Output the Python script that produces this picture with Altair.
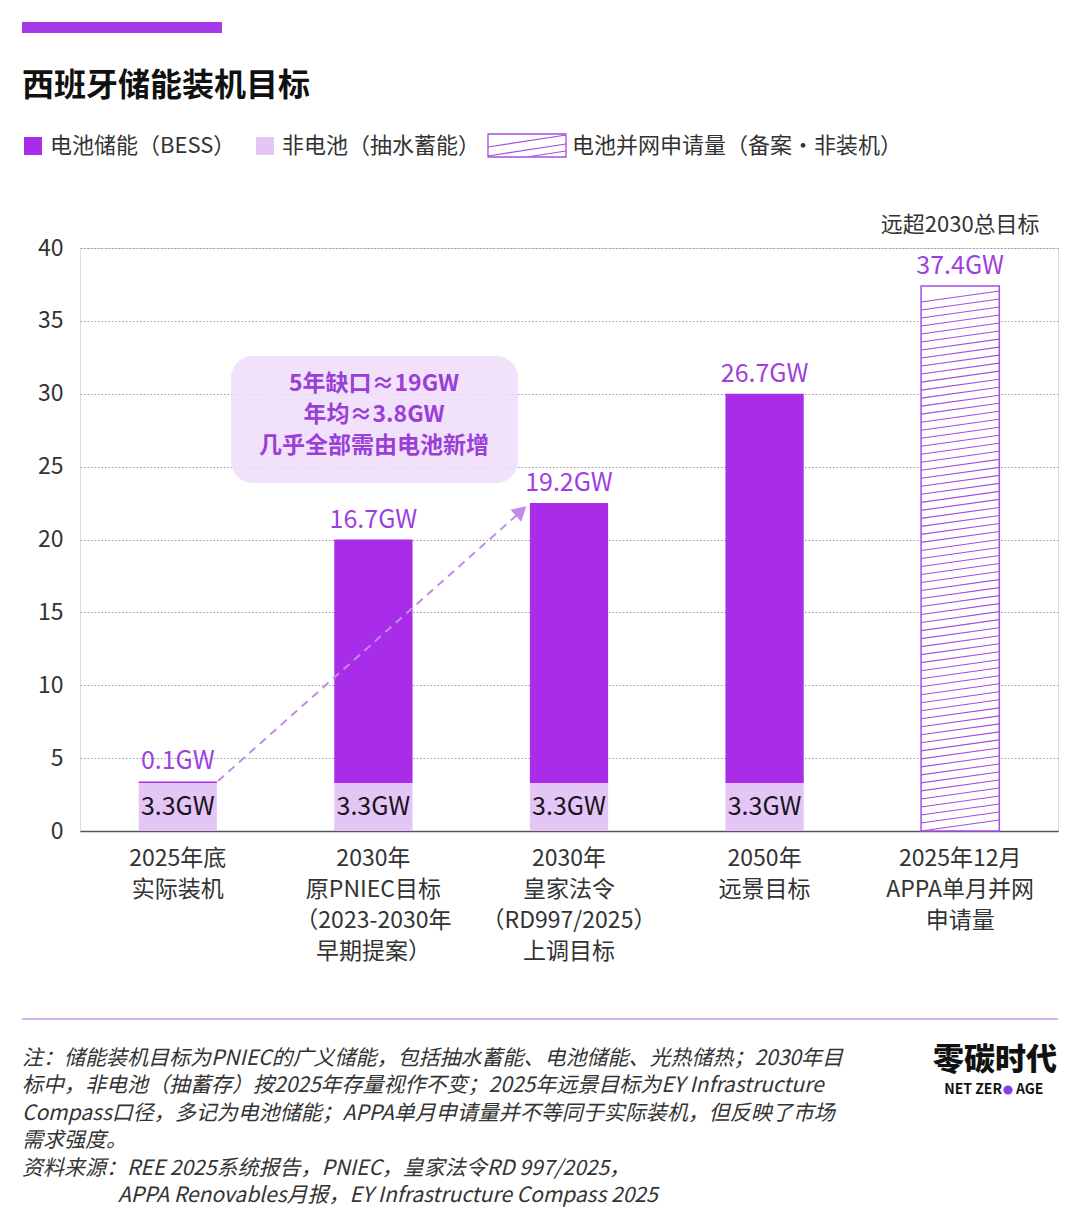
import altair as alt
import pandas as pd

# ---------------- data ----------------
categories = [
    "2025年底|实际装机",
    "2030年|原PNIEC目标|（2023-2030年|早期提案）",
    "2030年|皇家法令|（RD997/2025）|上调目标",
    "2050年|远景目标",
    "2025年12月|APPA单月并网|申请量",
]
non_battery = [3.3, 3.3, 3.3, 3.3, 0.0]      # 非电池（抽水蓄能）
battery = [0.1, 16.7, 19.2, 26.7, 0.0]       # 电池储能（BESS）
applications = [0.0, 0.0, 0.0, 0.0, 37.4]    # 电池并网申请量
y_ticks = [0, 5, 10, 15, 20, 25, 30, 35, 40]

title_text = "西班牙储能装机目标"
legend_texts = ["电池储能（BESS）", "非电池（抽水蓄能）", "电池并网申请量（备案·非装机）"]
box_lines = ["5年缺口≈19GW", "年均≈3.8GW", "几乎全部需由电池新增"]
top_note = "远超2030总目标"
note_lines = [
    "注：储能装机目标为PNIEC的广义储能，包括抽水蓄能、电池储能、光热储热；2030年目",
    "标中，非电池（抽蓄存）按2025年存量视作不变；2025年远景目标为EY Infrastructure",
    "Compass口径，多记为电池储能；APPA单月申请量并不等同于实际装机，但反映了市场",
    "需求强度。",
    "资料来源：REE 2025系统报告，PNIEC，皇家法令RD 997/2025，",
]
source_line2 = "APPA Renovables月报，EY Infrastructure Compass 2025"

df = pd.DataFrame({"cat": categories, "non": non_battery, "bat": battery, "app": applications})

# ---------------- style ----------------
FONT = "Noto Sans CJK SC"
DARK = "#a82ce8"
LIGHT = "#e4c6f6"
LABEL_PURPLE = "#a03fe0"
HATCH = "#a24fe0"
TEXT = "#333333"
W, H = 978, 583

xscale = alt.Scale(domain=categories, paddingInner=0.6, paddingOuter=0.3)
xaxis = alt.Axis(
    title=None, labelExpr="split(datum.label, '|')", labelAngle=0, labelFontSize=23,
    labelColor=TEXT, labelLineHeight=31, labelPadding=16, labelBaseline="top",
    ticks=False, domain=True, domainColor="#555555", domainWidth=1.5, grid=False,
    labelFont=FONT,
)
yscale = alt.Scale(domain=[0, 40], nice=False)
yaxis = alt.Axis(
    title=None, values=y_ticks, grid=True, gridDash=[1.5, 2], gridColor="#9a9a9a",
    gridWidth=1, domain=False, ticks=False, labelFontSize=23, labelPadding=17,
    labelColor=TEXT, labelFont=FONT,
)


def xq():
    return alt.X("cat:N", sort=categories, scale=xscale, axis=xaxis)


def yq(field):
    return alt.Y(f"{field}:Q", scale=yscale, axis=yaxis)


base = alt.Chart(df)
one = alt.Chart(pd.DataFrame({"k": [0]}))

# annotation box (behind bars)
box = one.mark_rect(cornerRadius=22, fill="#eedcfa", opacity=0.85).encode(
    x=alt.value(151), x2=alt.value(438), y=alt.value(108), y2=alt.value(235)
)
box_text = one.mark_text(
    lineBreak="\n", lineHeight=31, fontSize=23, fontWeight="bold", color="#9a3ed8",
    align="center", baseline="middle", font=FONT,
).encode(x=alt.value(294), y=alt.value(136), text=alt.value("\n".join(box_lines)))

light_bars = base.transform_filter("datum.non > 0").mark_bar(color=LIGHT).encode(
    x=xq(), y=yq("non")
)
dark_bars = (
    base.transform_filter("datum.bat > 0")
    .transform_calculate(top="datum.non + datum.bat")
    .mark_bar(color=DARK)
    .encode(x=xq(), y=yq("top"), y2="non:Q")
)
app_bar = base.transform_filter("datum.app > 0").mark_bar(
    fill="white", stroke=HATCH, strokeWidth=1.5
).encode(x=xq(), y=yq("app"))

rise = 0.75
hatch = (
    alt.Chart(alt.sequence(0, applications[-1] - rise + 0.001, 0.55, as_="h"))
    .transform_calculate(h2=f"datum.h + {rise}")
    .mark_rule(color=HATCH, strokeWidth=1.1)
    .encode(x=alt.value(841.1), x2=alt.value(919.3), y=yq("h"), y2="h2:Q")
)

bat_labels = (
    base.transform_filter("datum.bat > 0")
    .transform_calculate(top="datum.non + datum.bat", lbl="format(datum.bat, '.1f') + 'GW'")
    .mark_text(dy=-12, baseline="alphabetic", fontSize=25, color=LABEL_PURPLE, font=FONT)
    .encode(x=xq(), y=yq("top"), text="lbl:N")
)
app_labels = (
    base.transform_filter("datum.app > 0")
    .transform_calculate(lbl="format(datum.app, '.1f') + 'GW'")
    .mark_text(dy=-12, baseline="alphabetic", fontSize=25, color=LABEL_PURPLE, font=FONT)
    .encode(x=xq(), y=yq("app"), text="lbl:N")
)
non_labels = (
    base.transform_filter("datum.non > 0")
    .transform_calculate(mid="datum.non / 2", lbl="format(datum.non, '.1f') + 'GW'")
    .mark_text(baseline="middle", fontSize=25, color="#1a1420", font=FONT)
    .encode(x=xq(), y=yq("mid"), text="lbl:N")
)
note_top = base.transform_filter("datum.app > 0").mark_text(
    baseline="middle", fontSize=22, color=TEXT, font=FONT
).encode(x=xq(), y=alt.value(-23), text=alt.value(top_note))

# dashed arrow
arrow_line = one.mark_rule(color="#c08ce9", strokeWidth=2, strokeDash=[8, 6]).encode(
    x=alt.value(138), y=alt.value(533), x2=alt.value(438), y2=alt.value(266)
)
arrow_head = one.mark_point(
    shape="triangle-up", filled=True, size=260, angle=48, color="#c08ce9", opacity=1
).encode(x=alt.value(441), y=alt.value(263))

# header
accent = one.mark_rect(color="#a53be8").encode(
    x=alt.value(-58), x2=alt.value(142), y=alt.value(-226), y2=alt.value(-215)
)
title = one.mark_text(
    align="left", baseline="middle", fontSize=32, fontWeight="bold", color="#111111", font=FONT
).encode(x=alt.value(-58), y=alt.value(-162), text=alt.value(title_text))

leg_sq1 = one.mark_rect(color=DARK).encode(
    x=alt.value(-56), x2=alt.value(-38), y=alt.value(-111), y2=alt.value(-93)
)
leg_sq2 = one.mark_rect(color=LIGHT).encode(
    x=alt.value(176), x2=alt.value(194), y=alt.value(-111), y2=alt.value(-93)
)
leg_box = one.mark_rect(fill="white", stroke=HATCH, strokeWidth=1.3).encode(
    x=alt.value(408), x2=alt.value(486), y=alt.value(-114), y2=alt.value(-91)
)
leg_h1 = one.mark_rule(color=HATCH, strokeWidth=1.1).encode(
    x=alt.value(408), x2=alt.value(486), y=alt.value(-101), y2=alt.value(-113)
)
leg_h2 = one.mark_rule(color=HATCH, strokeWidth=1.1).encode(
    x=alt.value(408), x2=alt.value(486), y=alt.value(-92), y2=alt.value(-104)
)
leg_h3 = one.mark_rule(color=HATCH, strokeWidth=1.1).encode(
    x=alt.value(450), x2=alt.value(486), y=alt.value(-91.5), y2=alt.value(-97)
)
leg_t1 = one.mark_text(align="left", baseline="middle", fontSize=22, color=TEXT, font=FONT).encode(
    x=alt.value(-30), y=alt.value(-102), text=alt.value(legend_texts[0])
)
leg_t2 = one.mark_text(align="left", baseline="middle", fontSize=22, color=TEXT, font=FONT).encode(
    x=alt.value(202), y=alt.value(-102), text=alt.value(legend_texts[1])
)
leg_t3 = one.mark_text(align="left", baseline="middle", fontSize=22, color=TEXT, font=FONT).encode(
    x=alt.value(492), y=alt.value(-102), text=alt.value(legend_texts[2])
)

# footer
sep = one.mark_rule(color="#d5b2ef", strokeWidth=2).encode(
    x=alt.value(-58), x2=alt.value(978), y=alt.value(771)
)
note = one.mark_text(
    lineBreak="\n", lineHeight=27.4, align="left", baseline="top", fontSize=21,
    fontStyle="italic", color=TEXT, font=FONT,
).encode(x=alt.value(-58), y=alt.value(800), text=alt.value("\n".join(note_lines)))
note2 = one.mark_text(
    align="left", baseline="top", fontSize=21, fontStyle="italic", color=TEXT, font=FONT
).encode(x=alt.value(38), y=alt.value(937), text=alt.value(source_line2))

logo = one.mark_text(
    align="center", baseline="middle", fontSize=31, fontWeight=900, color="#111111", font=FONT
).encode(x=alt.value(915), y=alt.value(813), text=alt.value("零碳时代"))
logo_a = one.mark_text(
    align="right", baseline="middle", fontSize=14, fontWeight="bold", color="#111111", font=FONT
).encode(x=alt.value(922), y=alt.value(842), text=alt.value("NET ZER"))
logo_dot = one.mark_point(shape="circle", filled=True, size=85, color="#8a3df0", opacity=1).encode(
    x=alt.value(928), y=alt.value(842)
)
logo_b = one.mark_text(
    align="left", baseline="middle", fontSize=14, fontWeight="bold", color="#111111", font=FONT
).encode(x=alt.value(936), y=alt.value(842), text=alt.value("AGE"))

chart = alt.layer(
    box, light_bars, dark_bars, app_bar, hatch, arrow_line, arrow_head,
    bat_labels, app_labels, non_labels, note_top, box_text,
    accent, title, leg_sq1, leg_sq2, leg_box, leg_h1, leg_h2, leg_h3,
    leg_t1, leg_t2, leg_t3, sep, note, note2, logo, logo_a, logo_dot, logo_b,
).properties(
    width=W, height=H,
    padding={"left": 80, "top": 248, "right": 22, "bottom": 396},
    autosize=alt.AutoSizeParams(type="none"),
    background="white",
).configure_view(stroke=None).configure(font=FONT)

chart.save("out.html", embed_options={"renderer": "svg", "actions": False})
